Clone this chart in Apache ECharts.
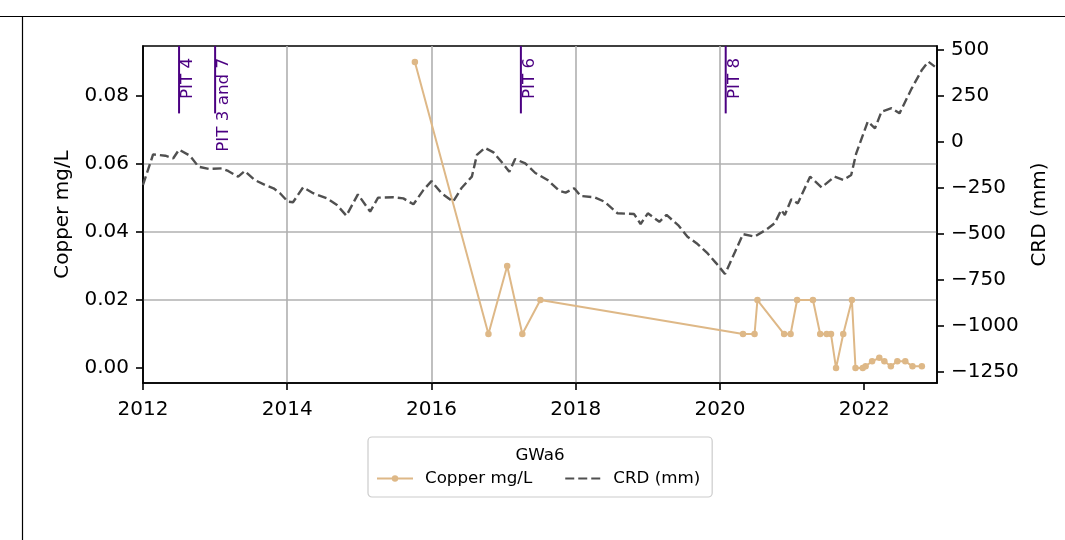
<!DOCTYPE html>
<html>
<head>
<meta charset="utf-8">
<script src="https://cdn.jsdelivr.net/npm/echarts@6/dist/echarts.min.js"></script>
<style>
  html, body { margin: 0; padding: 0; background: #fff; }
  #chart { width: 1065px; height: 540px; }
</style>
</head>
<body>
<div id="chart"></div>
<script>
// ---- data (decimal years) ----
const copperYears = [2015.77, 2016.79, 2017.05, 2017.26, 2017.51, 2020.32, 2020.48, 2020.52, 2020.89, 2020.98,
  2021.07, 2021.29, 2021.39, 2021.48, 2021.54, 2021.61, 2021.71, 2021.83, 2021.88, 2021.98,
  2022.02, 2022.11, 2022.21, 2022.28, 2022.37, 2022.46, 2022.57, 2022.67, 2022.80];
const copperValues = [0.09, 0.01, 0.03, 0.01, 0.02, 0.01, 0.01, 0.02, 0.01, 0.01,
  0.02, 0.02, 0.01, 0.01, 0.01, 0.0, 0.01, 0.02, 0.0, 0.0,
  0.0005, 0.002, 0.003, 0.002, 0.0005, 0.002, 0.002, 0.0005, 0.0005];

const crdYears = [2012.00, 2012.14, 2012.31, 2012.42, 2012.50, 2012.65, 2012.77, 2012.91, 2013.09, 2013.18,
  2013.32, 2013.41, 2013.55, 2013.69, 2013.81, 2013.90, 2014.01, 2014.08, 2014.22, 2014.36,
  2014.55, 2014.69, 2014.82, 2014.98, 2015.15, 2015.26, 2015.47, 2015.61, 2015.75, 2015.89,
  2016.00, 2016.14, 2016.30, 2016.42, 2016.56, 2016.63, 2016.74, 2016.86, 2016.97, 2017.08,
  2017.16, 2017.30, 2017.44, 2017.61, 2017.77, 2017.86, 2017.98, 2018.07, 2018.26, 2018.40,
  2018.58, 2018.81, 2018.90, 2019.00, 2019.16, 2019.26, 2019.42, 2019.55, 2019.69, 2019.83,
  2019.95, 2020.07, 2020.21, 2020.32, 2020.48, 2020.65, 2020.76, 2020.85, 2020.90, 2020.99,
  2021.08, 2021.25, 2021.41, 2021.59, 2021.71, 2021.82, 2021.89, 2022.05, 2022.15, 2022.24,
  2022.38, 2022.49, 2022.66, 2022.80, 2022.89, 2022.98];
const crdValues = [-235, -69, -76, -90, -43, -76, -136, -148, -145, -159,
  -190, -159, -208, -235, -253, -280, -326, -329, -248, -280,
  -308, -344, -402, -286, -380, -304, -302, -308, -340, -262,
  -214, -280, -326, -250, -190, -72, -33, -58, -109, -163,
  -94, -118, -170, -208, -266, -277, -253, -295, -302, -326,
  -389, -393, -447, -389, -435, -398, -453, -516, -556, -607,
  -661, -719, -598, -502, -516, -476, -443, -371, -398, -313,
  -335, -190, -248, -190, -208, -181, -63, 109, 73, 163,
  182, 154, 290, 390, 435, 408];

const pitYears = [2012.5, 2013.0, 2017.24, 2020.08];
const pitLabels = ['PIT 4', 'PIT 3 and 7', 'PIT 6', 'PIT 8'];

const xTicks = [2012, 2014, 2016, 2018, 2020, 2022];
const leftTicks = [0, 0.02, 0.04, 0.06, 0.08];
const rightTicks = [-1250, -1000, -750, -500, -250, 0, 250, 500];

const legendTitle = 'GWa6';
const copperName = 'Copper mg/L';
const crdName = 'CRD (mm)';

// ---- chart ----
const FONT = 'DejaVu Sans';
const chart = echarts.init(document.getElementById('chart'), null, { renderer: 'canvas' });

const axisLineStyle = { show: true, onZero: false, lineStyle: { color: '#000', width: 1.6 } };
const tickStyle = { show: true, length: 7, lineStyle: { color: '#000', width: 1.6 } };
const labelStyle = { color: '#000', fontFamily: FONT, fontSize: 20 };
const nameStyle = { color: '#000', fontFamily: FONT, fontSize: 20 };
const gridLineStyle = { color: '#b0b0b0', width: 1.6 };

const option = {
  animation: false,
  backgroundColor: '#fff',
  grid: { left: 143, right: 128, top: 46, bottom: 157, show: true, borderColor: '#000', borderWidth: 1.6, backgroundColor: 'transparent' },
  xAxis: {
    type: 'value', min: 2012, max: 2023.01, interval: 2,
    axisLine: axisLineStyle,
    axisTick: { ...tickStyle, customValues: xTicks },
    axisLabel: { ...labelStyle, margin: 17, customValues: xTicks, formatter: v => String(Math.round(v)) },
    splitLine: { show: true, showMinLine: false, showMaxLine: false, lineStyle: gridLineStyle }
  },
  yAxis: [
    {
      type: 'value', position: 'left', min: -0.0044, max: 0.0947,
      name: copperName, nameLocation: 'middle', nameGap: 70, nameRotate: 90,
      nameTextStyle: nameStyle,
      axisLine: axisLineStyle,
      axisTick: { ...tickStyle, customValues: leftTicks },
      axisLabel: { ...labelStyle, margin: 14, customValues: leftTicks, formatter: v => v.toFixed(2) },
      splitLine: { show: true, showMinLine: false, showMaxLine: false, lineStyle: gridLineStyle }
    },
    {
      type: 'value', position: 'right', min: -1311, max: 520,
      name: crdName, nameLocation: 'middle', nameGap: 92, nameRotate: 90,
      nameTextStyle: nameStyle,
      axisLine: axisLineStyle,
      axisTick: { ...tickStyle, customValues: rightTicks },
      axisLabel: { ...labelStyle, margin: 14, customValues: rightTicks,
        formatter: v => (v < 0 ? '\u2212' + Math.abs(v) : String(v)) },
      splitLine: { show: false }
    }
  ],
  legend: {
    left: 368, top: 437,
    orient: 'horizontal',
    padding: [33, 12, 10, 8],
    itemGap: 32,
    itemWidth: 36, itemHeight: 8,
    borderColor: '#cccccc', borderWidth: 1.2, borderRadius: 4,
    backgroundColor: '#fff',
    textStyle: { color: '#000', fontFamily: FONT, fontSize: 16.7, padding: [0, 0, 0, 7] },
    data: [
      { name: copperName },
      { name: crdName, itemStyle: { opacity: 0 } }
    ]
  },
  graphic: [
    { type: 'line', shape: { x1: 0, y1: 16.5, x2: 1065, y2: 16.5 }, style: { stroke: '#000', lineWidth: 1.2 } },
    { type: 'line', shape: { x1: 22.5, y1: 16, x2: 22.5, y2: 540 }, style: { stroke: '#000', lineWidth: 1.2 } },
    { type: 'text', x: 540, y: 456, z: 100, style: { text: legendTitle, fill: '#000', font: '16.7px "DejaVu Sans"', align: 'center', verticalAlign: 'middle' } }
  ],
  series: [
    {
      name: copperName, type: 'line', xAxisIndex: 0, yAxisIndex: 0,
      data: copperYears.map((y, i) => [y, copperValues[i]]),
      symbol: 'circle', symbolSize: 6.5, showSymbol: true,
      itemStyle: { color: '#deb887' },
      lineStyle: { color: '#deb887', width: 2 },
      z: 3
    },
    {
      name: crdName, type: 'line', xAxisIndex: 0, yAxisIndex: 1,
      data: crdYears.map((y, i) => [y, crdValues[i]]),
      symbol: 'none', showSymbol: false,
      itemStyle: { color: '#505050' },
      lineStyle: { color: '#505050', width: 2.4, type: [9, 4] },
      z: 4
    },
    {
      type: 'custom', xAxisIndex: 0, yAxisIndex: 0, silent: true, z: 5,
      data: pitYears.map(y => [y, 0]),
      renderItem: (params, api) => {
        const x = api.coord([api.value(0), 0])[0];
        const cs = params.coordSys;
        const label = pitLabels[params.dataIndex];
        return {
          type: 'group',
          children: [
            { type: 'line', shape: { x1: x, y1: cs.y, x2: x, y2: cs.y + cs.height * 0.2 },
              style: { stroke: '#4b0082', lineWidth: 2 } },
            { type: 'text', x: x + 0.5, y: cs.y + 12, rotation: Math.PI / 2,
              style: { text: label, fill: '#4b0082', font: '16.7px "DejaVu Sans"', align: 'right', verticalAlign: 'top' } }
          ]
        };
      }
    }
  ]
};
chart.setOption(option);
</script>
</body>
</html>
